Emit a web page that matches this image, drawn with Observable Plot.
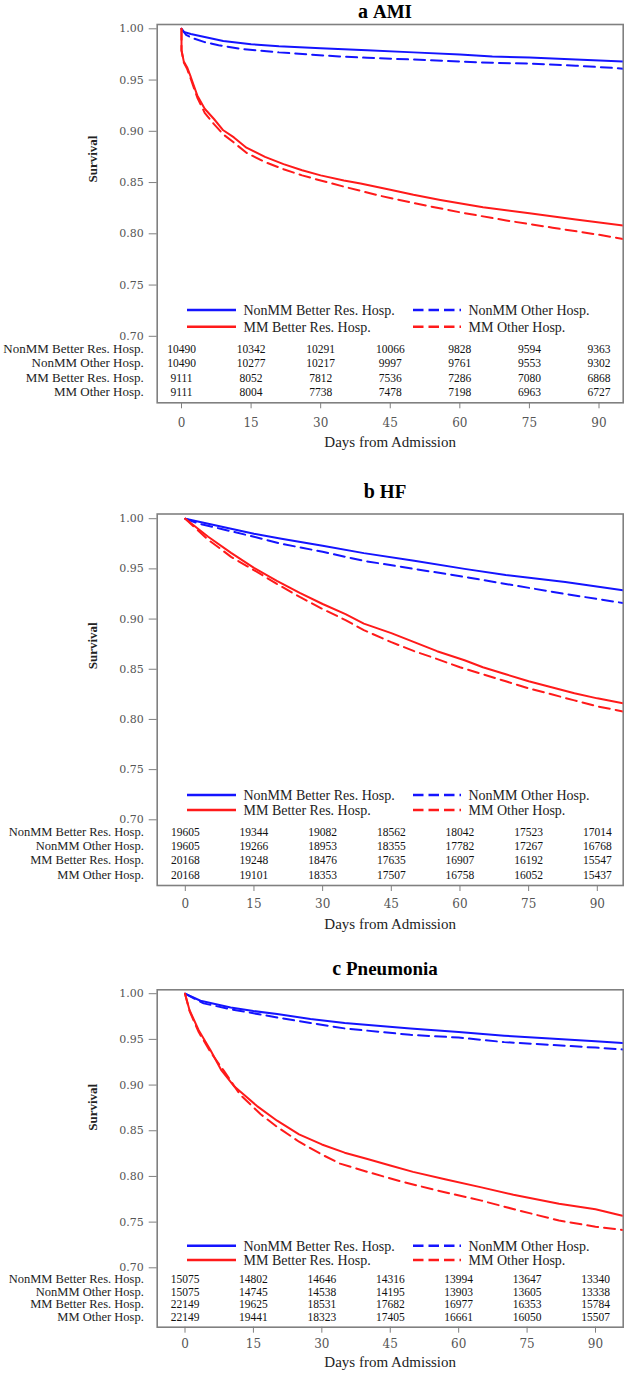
<!DOCTYPE html>
<html><head><meta charset="utf-8">
<script src="https://cdn.jsdelivr.net/npm/d3@7"></script>
<script src="https://cdn.jsdelivr.net/npm/@observablehq/plot@0.6"></script>
<style>
body{margin:0;background:#fff;}
#wrap{position:relative;width:624px;height:1374px;overflow:hidden;background:#fff;}
#wrap svg{position:absolute;left:0;overflow:visible;}
</style></head><body><div id="wrap"></div>
<script>
// ---------- labels ----------
const seriesNames = ["NonMM Better Res. Hosp.", "NonMM Other Hosp.", "MM Better Res. Hosp.", "MM Other Hosp."];
const seriesColors = ["#1414ff", "#1414ff", "#ff1a1a", "#ff1a1a"];
const seriesDashed = [false, true, false, true];
const xTicks = [0, 15, 30, 45, 60, 75, 90];
const yTicks = [0.70, 0.75, 0.80, 0.85, 0.90, 0.95, 1.00];
const riskDays = [0, 15, 30, 45, 60, 75, 90];

// ---------- a AMI ----------
const amiNonMMBetterDays = [0, 0.5, 2, 5, 9, 15, 21, 30, 40, 50, 60, 67, 75, 85, 95.2];
const amiNonMMBetterSurv = [1.000, 0.997, 0.995, 0.992, 0.988, 0.985, 0.983, 0.981, 0.979, 0.977, 0.975, 0.973, 0.972, 0.970, 0.968];
const amiNonMMOtherDays = [0, 1, 2.3, 5, 8, 12.7, 21, 34, 40, 50, 60, 67, 75, 85, 94, 95.2];
const amiNonMMOtherSurv = [1.000, 0.994, 0.991, 0.987, 0.984, 0.9805, 0.977, 0.973, 0.9717, 0.970, 0.968, 0.9668, 0.966, 0.964, 0.9616, 0.961];
const amiMMBetterDays = [0, 0, 0.5, 1.2, 2, 3.4, 5, 7, 9, 11.3, 14, 18, 22, 26, 30, 35, 38.6, 45, 50, 55.8, 65, 75, 85, 95.2];
const amiMMBetterSurv = [1.000, 0.979, 0.968, 0.9626, 0.953, 0.935, 0.922, 0.912, 0.901, 0.894, 0.884, 0.875, 0.868, 0.862, 0.857, 0.852, 0.849, 0.843, 0.838, 0.833, 0.826, 0.820, 0.814, 0.808];
const amiMMOtherDays = [0, 0, 0.5, 1.2, 2, 3.4, 5, 7, 9, 11.3, 14, 18, 22, 26, 30, 35, 42.9, 50, 60, 70, 80, 90, 95.2];
const amiMMOtherSurv = [1.000, 0.979, 0.967, 0.961, 0.951, 0.933, 0.918, 0.907, 0.897, 0.889, 0.879, 0.870, 0.863, 0.857, 0.852, 0.846, 0.837, 0.830, 0.821, 0.813, 0.806, 0.799, 0.795];
const amiRiskNonMMBetter = [10490, 10342, 10291, 10066, 9828, 9594, 9363];
const amiRiskNonMMOther = [10490, 10277, 10217, 9997, 9761, 9553, 9302];
const amiRiskMMBetter = [9111, 8052, 7812, 7536, 7286, 7080, 6868];
const amiRiskMMOther = [9111, 8004, 7738, 7478, 7198, 6963, 6727];

// ---------- b HF ----------
const hfNonMMBetterDays = [0, 5, 10, 15, 21, 30, 39, 50, 61, 70, 83, 95.6];
const hfNonMMBetterSurv = [1.000, 0.995, 0.990, 0.985, 0.980, 0.973, 0.9657, 0.958, 0.950, 0.944, 0.937, 0.9286];
const hfNonMMOtherDays = [0, 3, 7.7, 15, 21, 30, 39, 50, 61, 70, 83, 95.6];
const hfNonMMOtherSurv = [1.000, 0.995, 0.990, 0.982, 0.975, 0.967, 0.958, 0.950, 0.942, 0.935, 0.925, 0.916];
const hfMMBetterDays = [0, 5, 10, 15, 20, 25, 30, 35, 39, 45, 50, 55, 61, 65, 70, 75, 80, 85, 90, 95.6];
const hfMMBetterSurv = [1.000, 0.982, 0.966, 0.951, 0.938, 0.926, 0.915, 0.905, 0.8955, 0.886, 0.877, 0.868, 0.859, 0.852, 0.845, 0.838, 0.832, 0.826, 0.821, 0.816];
const hfMMOtherDays = [0, 5, 7.7, 10, 16.4, 20, 25, 30, 35, 39, 45, 50, 53.7, 60, 65, 70, 75, 80, 85, 90, 95.6];
const hfMMOtherSurv = [1.000, 0.979, 0.970, 0.962, 0.945, 0.935, 0.922, 0.910, 0.899, 0.889, 0.877, 0.868, 0.8623, 0.852, 0.845, 0.838, 0.831, 0.825, 0.819, 0.813, 0.808];
const hfRiskNonMMBetter = [19605, 19344, 19082, 18562, 18042, 17523, 17014];
const hfRiskNonMMOther = [19605, 19266, 18953, 18355, 17782, 17267, 16768];
const hfRiskMMBetter = [20168, 19248, 18476, 17635, 16907, 16192, 15547];
const hfRiskMMOther = [20168, 19101, 18353, 17507, 16758, 16052, 15437];

// ---------- c Pneumonia ----------
const pnNonMMBetterDays = [0, 3.4, 10, 15, 20.2, 27.5, 35, 49.4, 60, 70, 80, 90, 95.9];
const pnNonMMBetterSurv = [1.000, 0.9923, 0.985, 0.981, 0.9778, 0.9723, 0.968, 0.962, 0.958, 0.954, 0.951, 0.948, 0.946];
const pnNonMMOtherDays = [0, 4.1, 10, 20.2, 27.5, 35, 49.4, 60, 70, 80, 90, 95.9];
const pnNonMMOtherSurv = [1.000, 0.9894, 0.983, 0.974, 0.968, 0.962, 0.955, 0.952, 0.947, 0.944, 0.941, 0.939];
const pnMMBetterDays = [0, 1, 3, 5.6, 8, 10.7, 13, 15.8, 20.2, 25, 30, 35, 40, 45, 50, 57, 65, 72, 82, 90, 95.9];
const pnMMBetterSurv = [1.000, 0.982, 0.960, 0.938, 0.916, 0.899, 0.889, 0.877, 0.861, 0.846, 0.835, 0.826, 0.819, 0.812, 0.805, 0.797, 0.788, 0.780, 0.770, 0.764, 0.757];
const pnMMOtherDays = [0, 1, 3, 5.6, 8.5, 12, 16.6, 20, 25, 30, 34, 40, 47, 55, 65, 73, 82, 90, 95.9];
const pnMMOtherSurv = [1.000, 0.981, 0.958, 0.936, 0.9158, 0.890, 0.868, 0.855, 0.838, 0.824, 0.814, 0.805, 0.795, 0.785, 0.7735, 0.763, 0.7517, 0.745, 0.7415];
const pnRiskNonMMBetter = [15075, 14802, 14646, 14316, 13994, 13647, 13340];
const pnRiskNonMMOther = [15075, 14745, 14538, 14195, 13903, 13605, 13338];
const pnRiskMMBetter = [22149, 19625, 18531, 17682, 16977, 16353, 15784];
const pnRiskMMOther = [22149, 19441, 18323, 17405, 16661, 16050, 15507];

// ---------- layout (pixels) ----------
const SERIF = "'Liberation Serif','Times New Roman',serif";
const TICKFONT = "'DejaVu Serif',serif";
const FRAME = "#808080";
const panels = [
  {letter: "a", name: "AMI", svgTop: 0, svgHeight: 462, frameTop: 24, frameBottom: 402.3,
   x0: 181, x90: 598.5, y100: 28.3, y070: 335.8, titleBase: 18, rowFont: 13,
   rowDy: [-50, -35.6, -21.3, -6.6], legendY: [310, 326.7], tickPad: 9.3, axisTitleDy: 44.4,
   curves: [[amiNonMMBetterDays, amiNonMMBetterSurv], [amiNonMMOtherDays, amiNonMMOtherSurv], [amiMMBetterDays, amiMMBetterSurv], [amiMMOtherDays, amiMMOtherSurv]],
   risk: [amiRiskNonMMBetter, amiRiskNonMMOther, amiRiskMMBetter, amiRiskMMOther]},
  {letter: "b", name: "HF", svgTop: 470, svgHeight: 470, frameTop: 513.5, frameBottom: 885,
   x0: 184.8, x90: 596.8, y100: 518.2, y070: 819.3, titleBase: 498, rowFont: 12.5,
   rowDy: [-49.6, -36, -21.3, -6.7], legendY: [795, 810], tickPad: 7.6, axisTitleDy: 43.3,
   curves: [[hfNonMMBetterDays, hfNonMMBetterSurv], [hfNonMMOtherDays, hfNonMMOtherSurv], [hfMMBetterDays, hfMMBetterSurv], [hfMMOtherDays, hfMMOtherSurv]],
   risk: [hfRiskNonMMBetter, hfRiskNonMMOther, hfRiskMMBetter, hfRiskMMOther]},
  {letter: "c", name: "Pneumonia", svgTop: 945, svgHeight: 429, frameTop: 989.3, frameBottom: 1326.7,
   x0: 184.5, x90: 595, y100: 993.2, y070: 1267.3, titleBase: 975, rowFont: 12.5,
   rowDy: [-44, -31.4, -19, -6], legendY: [1245.7, 1260], tickPad: 6.5, axisTitleDy: 39.3,
   curves: [[pnNonMMBetterDays, pnNonMMBetterSurv], [pnNonMMOtherDays, pnNonMMOtherSurv], [pnMMBetterDays, pnMMBetterSurv], [pnMMOtherDays, pnMMOtherSurv]],
   risk: [pnRiskNonMMBetter, pnRiskNonMMOther, pnRiskMMBetter, pnRiskMMOther]}
];
const legendCols = [{x1: 187, x2: 236, tx: 243.5}, {x1: 413, x2: 461, tx: 468.5}];

const wrap = document.getElementById("wrap");

for (const p of panels) {
  const T = p.svgTop;
  const marks = [Plot.frame({stroke: FRAME, strokeWidth: 1.6})];
  // survival curves
  p.curves.forEach(([days, surv], k) => {
    const data = days.map((d, i) => ({day: d, surv: surv[i]}));
    marks.push(Plot.line(data, {
      x: "day", y: "surv", stroke: seriesColors[k], strokeWidth: 2,
      strokeDasharray: seriesDashed[k] ? "11,6" : null, curve: "linear", clip: true
    }));
  });
  // risk table
  p.risk.forEach((vals, r) => {
    const rows = riskDays.map((d, i) => ({day: d, n: vals[i]}));
    marks.push(Plot.text(rows, {x: "day", text: d => String(d.n), frameAnchor: "bottom", dy: p.rowDy[r],
      fontSize: 11.5, fontFamily: SERIF, fill: "#111"}));
    marks.push(Plot.text([seriesNames[r]], {text: d => d, frameAnchor: "bottom-left", dx: -13.4, dy: p.rowDy[r],
      textAnchor: "end", fontSize: p.rowFont, fontFamily: SERIF, fill: "#222"}));
  });
  // axes
  marks.push(Plot.axisY({ticks: yTicks, tickFormat: d3.format(".2f"), tickSize: 8, tickPadding: 5.5, label: null,
    stroke: FRAME, fill: "#555", fontSize: 11, fontFamily: TICKFONT}));
  marks.push(Plot.axisX({ticks: xTicks, tickFormat: d => String(d), tickSize: 6, tickPadding: p.tickPad, label: null,
    stroke: FRAME, fill: "#555", fontSize: 12, fontFamily: TICKFONT}));
  marks.push(Plot.text(["Survival"], {text: d => d, y: () => (yTicks[0] + yTicks[yTicks.length - 1]) / 2, frameAnchor: "left",
    dx: -64, rotate: -90, fontSize: 13, fontWeight: "bold", fontFamily: SERIF, fill: "#222"}));
  marks.push(Plot.text(["Days from Admission"], {text: d => d, frameAnchor: "bottom", dy: p.axisTitleDy,
    fontSize: 15, fontFamily: SERIF, fill: "#222"}));

  const svg = Plot.plot({
    width: 624, height: p.svgHeight,
    marginLeft: 156.7, marginRight: 1.3,
    marginTop: p.frameTop - T, marginBottom: T + p.svgHeight - p.frameBottom,
    x: {domain: [0, 90], range: [p.x0, p.x90]},
    y: {domain: [0.70, 1.00], range: [p.y070 - T, p.y100 - T]},
    style: {fontFamily: SERIF, fontSize: "13px", background: "transparent", color: "#222"},
    marks
  });
  svg.style.top = T + "px";
  wrap.appendChild(svg);

  const s = d3.select(svg);
  // panel title
  const t = s.append("text").attr("x", 385).attr("y", p.titleBase - T)
    .attr("text-anchor", "middle").attr("font-family", SERIF).attr("font-weight", "bold").attr("fill", "#000");
  t.append("tspan").attr("font-size", 20).text(p.letter + " ");
  t.append("tspan").attr("font-size", 19).text(p.name);
  // legend
  const g = s.append("g").attr("text-anchor", "start");
  seriesNames.forEach((name, k) => {
    const col = legendCols[k % 2];
    const y = p.legendY[Math.floor(k / 2)] - T;
    g.append("line").attr("x1", col.x1).attr("x2", col.x2).attr("y1", y).attr("y2", y)
      .attr("stroke", seriesColors[k]).attr("stroke-width", 2.5)
      .attr("stroke-dasharray", seriesDashed[k] ? "10.5,5" : null);
    g.append("text").attr("x", col.tx).attr("y", y).attr("dy", "0.35em").attr("text-anchor", "start")
      .attr("font-family", SERIF).attr("font-size", 14).attr("fill", "#222").text(name);
  });
}
</script></body></html>
